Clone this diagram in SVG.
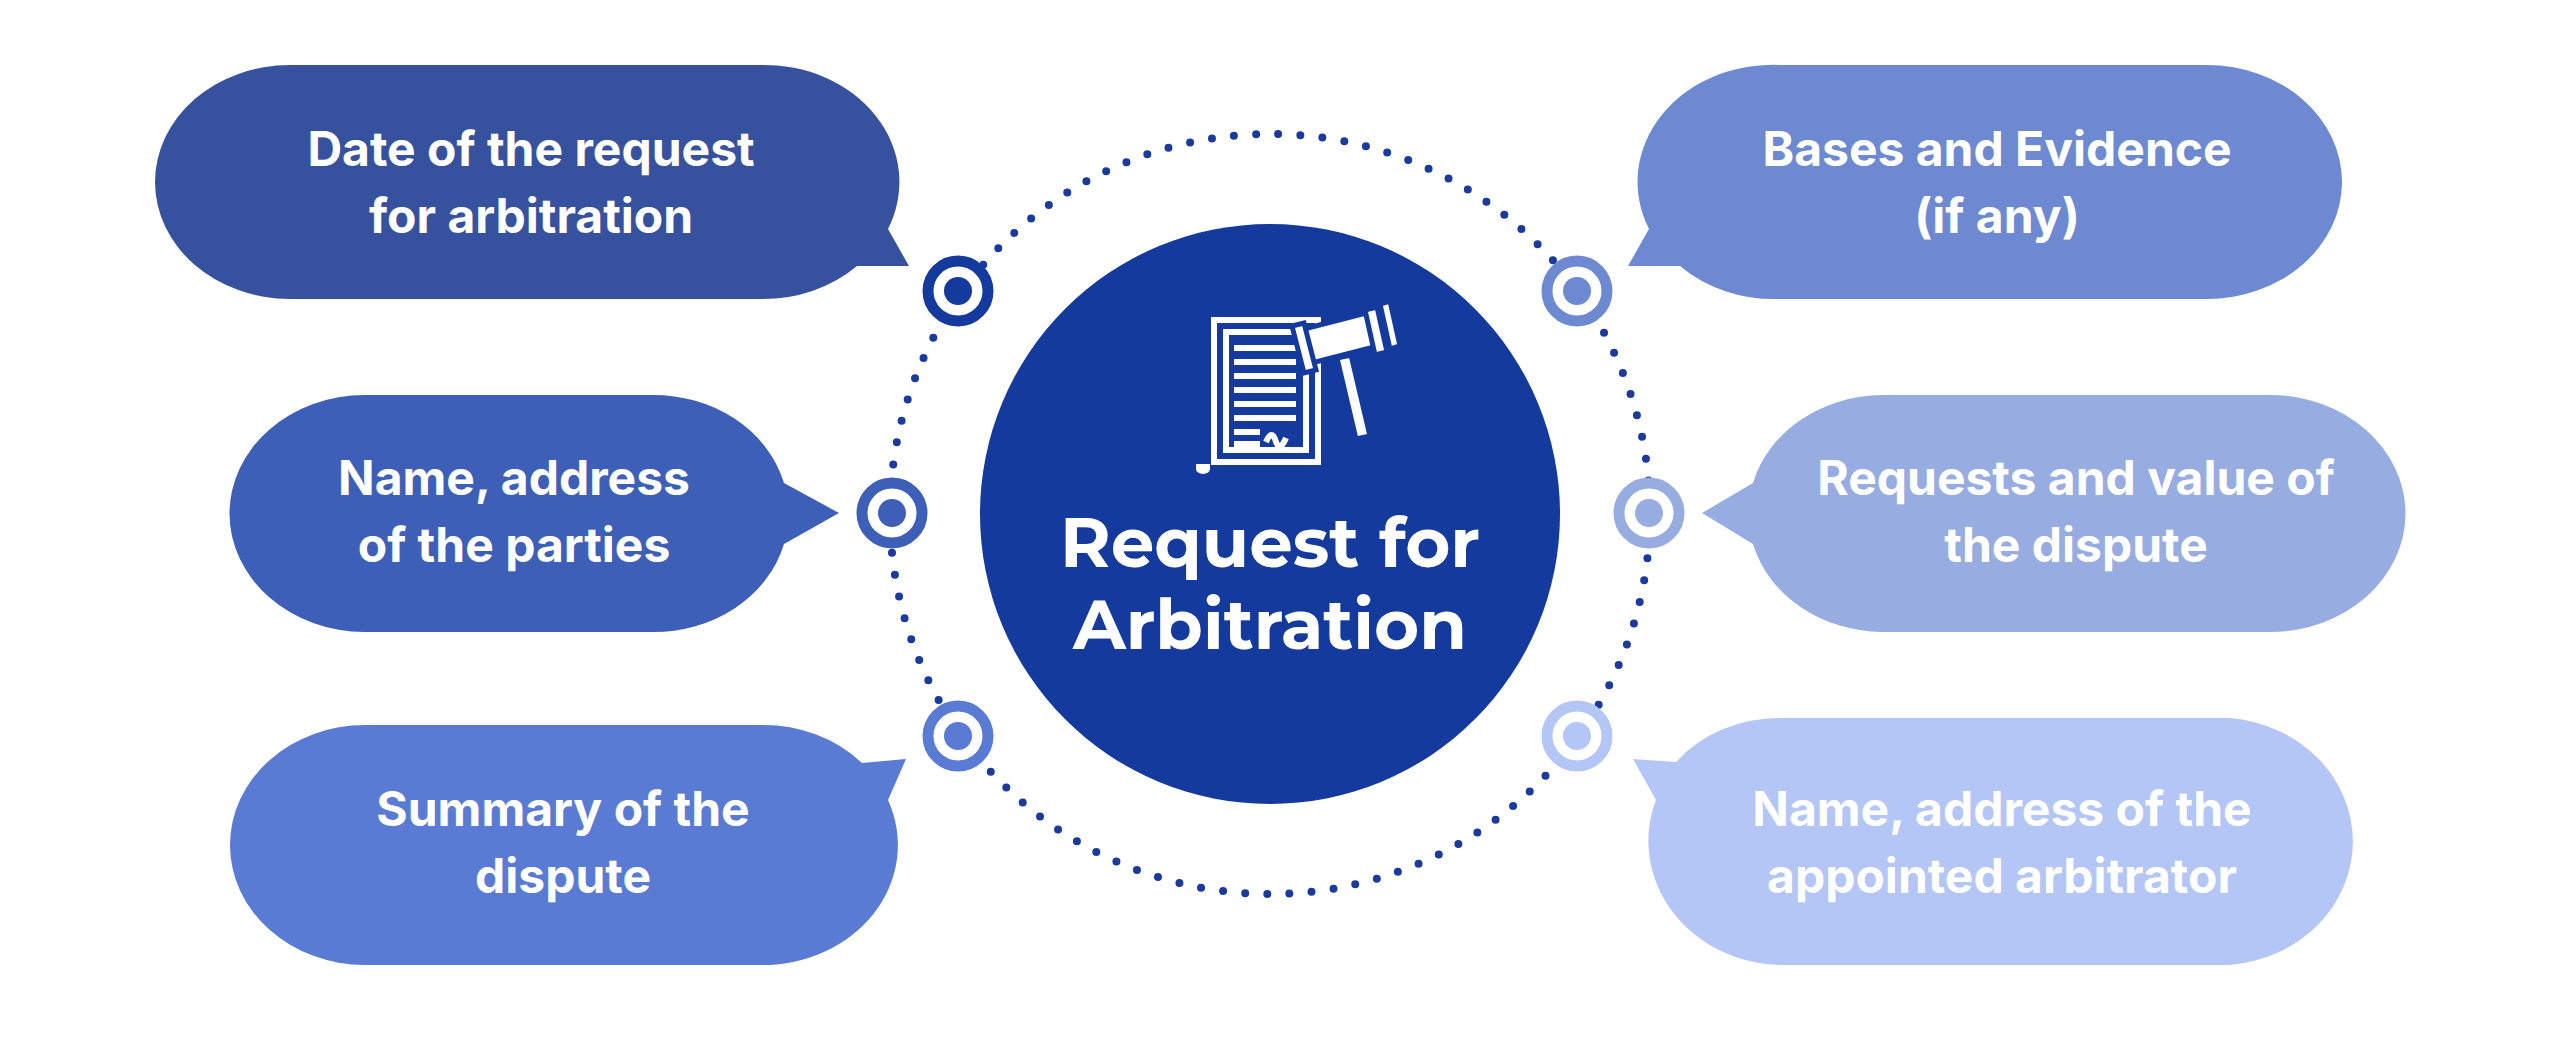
<svg xmlns="http://www.w3.org/2000/svg" width="2560" height="1038" viewBox="0 0 2560 1038">
<style>
.t{font-family:Inter,"Liberation Sans",sans-serif;font-weight:700;font-size:48px;fill:#fff;text-anchor:middle}
.c{font-family:Montserrat,Inter,"Liberation Sans",sans-serif;font-weight:700;font-size:69px;fill:#fff;text-anchor:middle}
.ring{fill:#fff;stroke-width:11}
</style>
<rect width="2560" height="1038" fill="#fff"/>
<g id="connectors">
<circle cx="1270" cy="514" r="380" fill="none" stroke="#1a3a9e" stroke-width="8" stroke-linecap="round" stroke-dasharray="0 22.2"/>
</g>
<g id="center">
<circle cx="1270" cy="514" r="290" fill="#133a9c"/>
<g fill="none" stroke="#fff" stroke-width="6">
<rect x="1214" y="320" width="104" height="142"/>
<rect x="1226" y="332" width="80" height="118"/>
</g>
<g stroke="#fff" stroke-width="6">
<line x1="1234" y1="348" x2="1296" y2="348"/><line x1="1234" y1="362" x2="1296" y2="362"/>
<line x1="1234" y1="376" x2="1296" y2="376"/><line x1="1234" y1="390" x2="1296" y2="390"/>
<line x1="1234" y1="404" x2="1296" y2="404"/><line x1="1234" y1="418" x2="1296" y2="418"/>
<line x1="1234" y1="432" x2="1260" y2="432"/><line x1="1234" y1="444" x2="1260" y2="444"/>
<path d="M1266 442 q6 -14 10 0 q4 10 10 -4" fill="none"/>
</g>
<path d="M1196 464 h14 v5 a7 5 0 0 1 -14 0z" fill="#fff"/>
<g fill="#fff" stroke="#133a9c" stroke-width="5">
<polygon points="1300,330 1370,312 1378,346 1308,364"/>
<polygon points="1292,326 1304,323 1316,370 1304,373"/>
<polygon points="1365,310 1377,307 1387,352 1375,355"/>
<polygon points="1380,304 1390,301 1400,346 1390,349"/>
<polygon points="1337,358 1351,355 1370,436 1356,439"/>
</g>
<text class="c" x="1270" y="567">Request for</text>
<text class="c" x="1270" y="649">Arbitration</text>
</g>
<g id="b1">
<path d="M290 65 H760 A135 117 0 0 1 888 229 L909 266 H857 A135 117 0 0 1 760 299 H290 A135 117 0 0 1 290 65 Z" fill="#36529f"/>
<text class="t" x="531" y="166">Date of the request</text>
<text class="t" x="531" y="233">for arbitration</text>
</g>
<g id="b2">
<path d="M365 395 H650 A135 118 0 0 1 784 483 L839 513 L784 544 A135 118 0 0 1 650 632 H365 A135 118 0 0 1 365 395 Z" fill="#3d5fb8"/>
<text class="t" x="514" y="495">Name, address</text>
<text class="t" x="514" y="562">of the parties</text>
</g>
<g id="b3">
<path d="M365 725 H760 A135 120 0 0 1 862 763 L906 759 L888 800 A135 120 0 0 1 760 965 H365 A135 120 0 0 1 365 725 Z" fill="#5a7bd4"/>
<text class="t" x="563" y="826">Summary of the</text>
<text class="t" x="563" y="893">dispute</text>
</g>
<g id="b4">
<path d="M2207 65 H1780 A135 117 0 0 0 1649 229 L1628 266 H1680 A135 117 0 0 0 1780 299 H2207 A135 117 0 0 0 2207 65 Z" fill="#6d89d1"/>
<text class="t" x="1997" y="166">Bases and Evidence</text>
<text class="t" x="1997" y="233">(if any)</text>
</g>
<g id="b5">
<path d="M2270 395 H1882 A135 118 0 0 0 1753 483 L1702 513 L1753 544 A135 118 0 0 0 1882 632 H2270 A135 118 0 0 0 2270 395 Z" fill="#97ade2"/>
<text class="t" x="2076" y="495">Requests and value of</text>
<text class="t" x="2076" y="562">the dispute</text>
</g>
<g id="b6">
<path d="M2230 718 H1780 A135 124 0 0 0 1676 762 L1633 759 L1656 800 A135 124 0 0 0 1780 965 H2230 A135 124 0 0 0 2230 718 Z" fill="#b3c6f5"/>
<text class="t" x="2002" y="826">Name, address of the</text>
<text class="t" x="2002" y="893">appointed arbitrator</text>
</g>
<g id="rings">
<circle class="ring" cx="958" cy="291" r="30" stroke="#133a9c"/><circle cx="958" cy="291" r="14" fill="#133a9c"/>
<circle class="ring" cx="892" cy="513" r="30" stroke="#3d5fb8"/><circle cx="892" cy="513" r="14" fill="#3d5fb8"/>
<circle class="ring" cx="958" cy="736" r="30" stroke="#5a7bd4"/><circle cx="958" cy="736" r="14" fill="#5a7bd4"/>
<circle class="ring" cx="1577" cy="291" r="30" stroke="#6d89d1"/><circle cx="1577" cy="291" r="14" fill="#6d89d1"/>
<circle class="ring" cx="1649" cy="513" r="30" stroke="#97ade2"/><circle cx="1649" cy="513" r="14" fill="#97ade2"/>
<circle class="ring" cx="1577" cy="736" r="30" stroke="#b3c6f5"/><circle cx="1577" cy="736" r="14" fill="#b3c6f5"/>
</g>
</svg>
